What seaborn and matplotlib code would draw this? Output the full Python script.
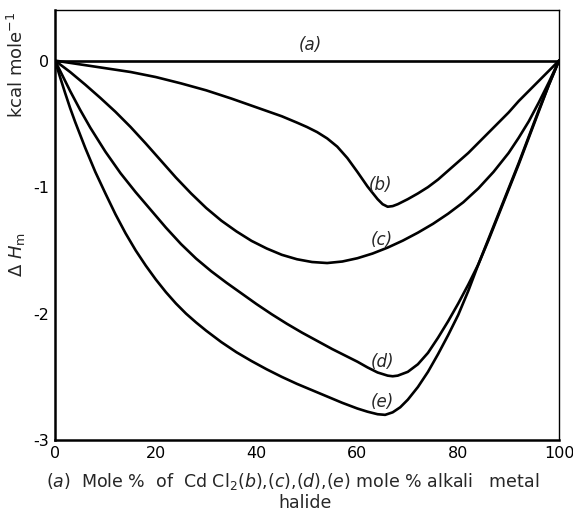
import pandas as pd
import seaborn as sns
import numpy as np
import matplotlib
matplotlib.use("Agg")
import matplotlib.pyplot as plt

# curve data (x = mole %, y = kcal/mole)
a_x = [0, 100]
a_y = [0, 0]

b_x = [0, 5, 10, 15, 20, 25, 30, 35, 40, 45, 48, 50, 52, 54, 56, 58, 60, 62, 64, 65, 66, 67, 68,
       70, 72, 74, 76, 78, 80, 82, 84, 86, 88, 90, 92, 94, 96, 98, 100]
b_y = [0, -0.03, -0.06, -0.09, -0.13, -0.18, -0.235, -0.30, -0.37, -0.44, -0.49, -0.525, -0.565,
       -0.615, -0.68, -0.77, -0.88, -0.995, -1.095, -1.135, -1.155, -1.15, -1.135,
       -1.095, -1.05, -1.00, -0.94, -0.87, -0.80, -0.73, -0.65, -0.57, -0.49, -0.41, -0.32,
       -0.24, -0.16, -0.08, 0]

c_x = [0, 3, 6, 9, 12, 15, 18, 21, 24, 27, 30, 33, 36, 39, 42, 45, 48, 51, 54, 57, 60, 63, 66,
       69, 72, 75, 78, 81, 84, 87, 90, 92, 94, 96, 98, 100]
c_y = [0, -0.09, -0.19, -0.295, -0.405, -0.525, -0.655, -0.79, -0.925, -1.05, -1.165, -1.265,
       -1.35, -1.425, -1.485, -1.535, -1.57, -1.592, -1.60, -1.588, -1.562, -1.525, -1.478,
       -1.423, -1.36, -1.29, -1.21, -1.12, -1.01, -0.88, -0.73, -0.61, -0.48, -0.33, -0.17, 0]

d_x = [0, 1, 2, 3, 5, 7, 10, 13, 16, 19, 22, 25, 28, 31, 34, 37, 40, 43, 46, 49, 52, 55, 58,
       60, 62, 64, 66, 67, 68, 70, 72, 74, 76, 78, 80, 82, 84, 86, 88, 90, 92, 94, 96, 98, 100]
d_y = [0, -0.08, -0.16, -0.24, -0.39, -0.53, -0.72, -0.89, -1.04, -1.18, -1.32, -1.45, -1.565,
       -1.665, -1.755, -1.84, -1.925, -2.005, -2.08, -2.15, -2.215, -2.28, -2.34,
       -2.38, -2.425, -2.465, -2.49, -2.495, -2.49, -2.46, -2.40, -2.31, -2.19, -2.06, -1.92,
       -1.77, -1.61, -1.42, -1.22, -1.02, -0.82, -0.61, -0.40, -0.19, 0]

e_x = [0, 1, 2, 3, 4, 6, 8, 10, 12, 14, 16, 18, 20, 22, 24, 26, 28, 30, 33, 36, 39, 42, 45, 48,
       51, 54, 57, 60, 62, 64, 65.5, 67, 68.5, 70, 72, 74, 76, 78, 80, 82, 84, 86, 88, 90, 92,
       94, 96, 98, 100]
e_y = [0, -0.13, -0.255, -0.375, -0.485, -0.69, -0.88, -1.05, -1.215, -1.365, -1.50, -1.62,
       -1.73, -1.83, -1.92, -2.00, -2.07, -2.135, -2.225, -2.305, -2.375, -2.44, -2.50, -2.555,
       -2.605, -2.655, -2.705, -2.75, -2.775, -2.795, -2.80, -2.78, -2.74, -2.68, -2.58, -2.46,
       -2.32, -2.17, -2.01, -1.82, -1.61, -1.41, -1.21, -1.01, -0.81, -0.60, -0.39, -0.19, 0]

curve_names = ["a", "b", "c", "d", "e"]
label_x = [50.6, 64.5, 64.9, 64.9, 64.9]
label_y = [0.12, -0.98, -1.42, -2.38, -2.70]

xticks = [0, 20, 40, 60, 80, 100]
yticks = [0, -1, -2, -3]

# build a long table
frames = []
for name, xs, ys in zip(curve_names, [a_x, b_x, c_x, d_x, e_x], [a_y, b_y, c_y, d_y, e_y]):
    frames.append(pd.DataFrame({"x": xs, "y": ys, "curve": name}))
df = pd.concat(frames, ignore_index=True)

sns.set_style("white")
plt.rcParams['font.family'] = ['DejaVu Sans']
plt.rcParams['mathtext.fontset'] = 'dejavusans'

fig = plt.figure(figsize=(5.73, 5.13), dpi=100)
ax = fig.add_axes([0.096, 0.142, 0.8796, 0.8385])

sns.lineplot(data=df, x="x", y="y", hue="curve", palette=["black"] * 5,
             sort=False, estimator=None, linewidth=1.9, legend=False, ax=ax)

ax.set_xlim(0, 100)
ax.set_ylim(-3, 0.4)
ax.set_xticks(xticks)
ax.set_yticks(yticks)
ax.set_xticklabels([str(t) for t in xticks])
ax.set_yticklabels([str(t) for t in yticks])
ax.tick_params(direction="in", length=7, width=1.5, labelsize=11.5, pad=4, colors="black")
ax.set_xlabel("")
ax.set_ylabel("")

for side in ["left", "bottom"]:
    ax.spines[side].set_linewidth(1.8)
for side in ["top", "right"]:
    ax.spines[side].set_linewidth(1.0)
for s in ax.spines.values():
    s.set_color("black")

for name, lx, ly in zip(curve_names, label_x, label_y):
    ax.text(lx, ly, "(" + name + ")", style="italic", fontsize=12, ha="center", va="center")

# y axis label in two parts
fig.text(17 / 573, 1 - 65 / 513, r"kcal mole$^{-1}$", rotation=90, fontsize=13,
         ha="center", va="center")
fig.text(17 / 573, 1 - 255 / 513, r"$\Delta\ \mathit{H}_{\rm m}$", rotation=90, fontsize=13,
         ha="center", va="center")

# x axis label
fig.text(0.08, 1 - 482 / 513,
         r"$\mathit{(a)}$  Mole %  of  Cd Cl$_2$$\mathit{(b)}$,$\mathit{(c)}$,"
         r"$\mathit{(d)}$,$\mathit{(e)}$ mole % alkali   metal",
         fontsize=12.5, ha="left", va="center")
fig.text(305 / 573, 1 - 503 / 513, "halide", fontsize=12.5, ha="center", va="center")

plt.savefig("out.png", dpi=100)
